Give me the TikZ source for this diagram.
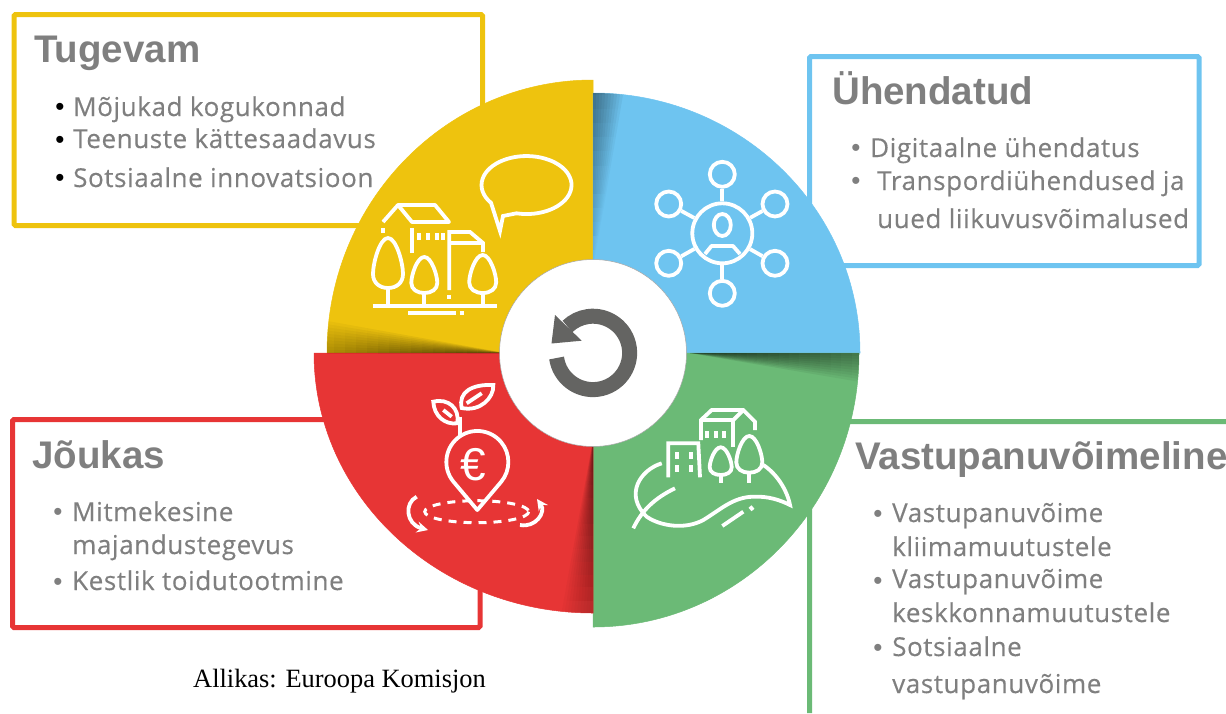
\documentclass[tikz,border=0pt]{standalone}
\usepackage{fontspec}
\usepackage{tikz}
\usetikzlibrary{fadings}
\usetikzlibrary{arrows}
\setmainfont{Liberation Sans}
\newfontfamily\bodyfont[LetterSpace=2.3,FakeBold=0.35]{Open Sans}
\newfontfamily\capfont{Liberation Serif}
\definecolor{kollane}{HTML}{EEC30E}
\definecolor{sinine}{HTML}{6EC4F0}
\definecolor{roheline}{HTML}{6BBA76}
\definecolor{punane}{HTML}{E73535}
\definecolor{tekst}{HTML}{7F7F7F}
\definecolor{nool}{HTML}{646462}
\tikzset{
	frame/.style = {line width=5pt, rounded corners=1.5pt},
	sector/.style = {draw=black!45, line width=0.5pt},
	iconline/.style = {draw=white, line width=3.8pt},
	satellite/.style = {circle, draw=white, line width=3.8pt, inner sep=0pt, minimum size=25pt},
	hub/.style = {circle, draw=white, line width=3.8pt, inner sep=0pt, minimum size=60pt},
	title/.style = {anchor=base west, inner sep=0pt, text=tekst, font=\fontsize{38.5}{38.5}\selectfont\bfseries},
	item/.style = {anchor=base west, inner sep=0pt, text=tekst, font=\fontsize{26}{26}\bodyfont},
	bullet/.style = {anchor=base, yshift=-9.5pt, inner sep=0pt, text=tekst, font=\fontsize{26}{26}\selectfont}
}
\newcommand{\treeicon}[4]{
	\draw[iconline, shift={(#1,#2)}, x=#3pt, y=-#4pt] (0,0) .. controls (.55,0) and (1,.5) .. (1,.72) .. controls (1,.9) and (.55,1) .. (0,1) .. controls (-.55,1) and (-1,.9) .. (-1,.72) .. controls (-1,.5) and (-.55,0) .. (0,0) -- cycle;
}
\begin{document}
\begin{tikzpicture}[x=1pt, y=-1pt]
	\useasboundingbox (0,0) rectangle (1226,713);

	\draw[frame, kollane] (14,14.5) rectangle (482.5,225.5);
	\draw[frame, sinine] (809.5,56.5) rectangle (1199,265.5);
	\draw[frame, punane] (12.5,419.5) rectangle (480,627.5);
	\draw[frame, roheline] (809.5,713) -- (809.5,421.5) -- (1226,421.5);

	\coordinate (O) at (593,353);
	\fill[sector, kollane] (O) -- (327,353) arc (180:270:266 and 273) -- cycle;
	\fill[sector, sinine] (O) -- (593,93) arc (270:360:267 and 260) -- cycle;
	\fill[sector, roheline] (O) -- (859,353) arc (0:90:266 and 274) -- cycle;
	\fill[sector, punane] (O) -- (593,613) arc (90:180:279 and 260) -- cycle;

	\begin{scope}
		\clip (O) -- (327,353) arc (180:270:266 and 273) -- cycle;
		\foreach \k in {1,...,10}
			\fill[black, opacity=0.09, path fading=west] (505,353) -- (250,353) -- (250,353-4.6*\k) -- cycle;
	\end{scope}
	\begin{scope}
		\clip (O) -- (593,93) arc (270:360:267 and 260) -- cycle;
		\foreach \k in {1,...,10}
			\fill[black, opacity=0.06, path fading=south] (593,270) -- (593,60) -- (593+3.6*\k,60) -- cycle;
	\end{scope}
	\begin{scope}
		\clip (O) -- (859,353) arc (0:90:266 and 274) -- cycle;
		\foreach \k in {1,...,10}
			\fill[black, opacity=0.1, path fading=east] (690,353) -- (960,353) -- (960,353+4.6*\k) -- cycle;
	\end{scope}
	\begin{scope}
		\clip (O) -- (593,613) arc (90:180:279 and 260) -- cycle;
		\foreach \k in {1,...,10}
			\fill[black, opacity=0.07, path fading=south] (593,440) -- (593,670) -- (593-4.2*\k,670) -- cycle;
	\end{scope}

	\node[circle, fill=white, draw=black!35, line width=0.5pt, inner sep=0pt, minimum size=187pt] (hole) at (593,353) {};
	\draw[nool, line width=15pt] (556.6,358) arc (172:-134:36.7);
	\fill[nool] (555,315) -- (551.5,343.5) -- (581.7,340.7) -- cycle;

	% kollane
	\draw[iconline] (516.4,213.3) arc (103:-218:45 and 29) -- (500,231) -- (503,216) -- cycle;
	\draw[iconline, line join=round] (383,222) -- (398,205) -- (435,205) -- (449,222) -- (412,222) -- (398,205);
	\draw[iconline] (382.7,228) -- (382.7,233);
	\draw[iconline] (411.7,228) -- (411.7,253);
	\draw[iconline] (419.3,233) -- (419.3,240);
	\draw[iconline] (428.3,233) -- (428.3,240);
	\draw[iconline] (436.7,233) -- (436.7,240);
	\draw[iconline] (443.3,233) -- (443.3,240);
	\draw[iconline] (449.3,295) -- (449.3,299);
	\draw[iconline] (449.3,290) -- (449.3,232) -- (470,232) -- (483,243) -- (483,252);
	\draw[iconline] (449.3,243) -- (483,243);
	\treeicon{388}{238}{15}{50}
	\treeicon{424.3}{257}{13}{36}
	\treeicon{482.7}{255}{13.5}{38}
	\draw[iconline] (388,288) -- (388,305);
	\draw[iconline] (424.3,293) -- (424.3,305);
	\draw[iconline] (482.7,293) -- (482.7,305);
	\draw[iconline] (372.7,305.7) -- (496.7,305.7);
	\draw[iconline] (408.3,313.3) -- (455.7,313.3);
	\draw[iconline] (459.7,313.3) -- (463.7,313.3);

	% sinine
	\node[hub] (hub) at (722.3,233.3) {};
	\node[satellite] (sat1) at (722.3,174.3) {};
	\node[satellite] (sat2) at (775,204) {};
	\node[satellite] (sat3) at (775,263.3) {};
	\node[satellite] (sat4) at (722.3,293.3) {};
	\node[satellite] (sat5) at (668.7,263.3) {};
	\node[satellite] (sat6) at (668.7,204) {};
	\draw[iconline] (hub) -- (sat1);
	\draw[iconline] (hub) -- (sat2);
	\draw[iconline] (hub) -- (sat3);
	\draw[iconline] (hub) -- (sat4);
	\draw[iconline] (hub) -- (sat5);
	\draw[iconline] (hub) -- (sat6);
	\draw[iconline] (722.3,225) ellipse (8.5 and 11);
	\draw[iconline, line join=round] (705,254) -- (711.5,246) -- (733,246) -- (740,254);

	% punane
	\draw[iconline, line join=round] (477.3,510) -- (453.6,481.9) arc (140:400:31) -- cycle;
	\draw[iconline] (460,416.7) -- (460,435);
	\draw[iconline] (461.7,408) .. controls (458,392) and (472,384) .. (493.3,385) .. controls (494,398) and (480,412) .. (461.7,408) -- cycle;
	\draw[iconline] (457.3,423.3) .. controls (445,425) and (434,416) .. (433.3,401.7) .. controls (448,398) and (460,408) .. (457.3,423.3) -- cycle;
	\draw[iconline] (466.7,403.3) -- (481.7,393.3);
	\draw[iconline] (443.3,410) -- (451.7,416.7);
	\node[inner sep=0pt, text=white, font=\fontsize{46}{46}\selectfont] (euro) at (473.5,465) {€};
	\draw[iconline, line width=3pt, dash pattern=on 8pt off 7pt] (476.7,511.7) ellipse (52 and 11);
	\draw[iconline, -stealth] (416.7,496.7) .. controls (404,503) and (406,524) .. (428,530);
	\draw[iconline, -stealth] (520,525) .. controls (536,528) and (546,512) .. (537,499);

	% roheline
	\draw[iconline] (661.7,463.3) .. controls (640,470) and (624,495) .. (646.7,516.7) .. controls (660,526) and (685,530) .. (703.3,520) .. controls (720,510) and (733,497) .. (753.3,496.7) .. controls (768,496) and (780,500) .. (790,505) .. controls (787,490) and (777,474) .. (763.3,465);
	\draw[iconline] (633.3,528.3) .. controls (642,510) and (655,498) .. (675,488.3);
	\draw[iconline] (722.3,526) -- (743.3,511.7);
	\draw[iconline] (750,506.5) -- (753,510);
	\draw[iconline] (668.3,477.3) -- (668.3,443.3) -- (698.3,443.3) -- (700,477.3);
	\draw[iconline] (701,440) -- (701,420) -- (711.7,410) -- (743.3,410) -- (755,421.7) -- (755,430);
	\draw[iconline] (701,420) -- (733.3,420) -- (743.3,410);
	\draw[iconline] (733.3,420) -- (733.3,446.7);
	\fill[white] (675.3,451.5) rectangle (679.3,458.5);
	\fill[white] (688.7,451.5) rectangle (692.7,458.5);
	\fill[white] (675.3,465) rectangle (679.3,472);
	\fill[white] (688.7,465) rectangle (692.7,472);
	\fill[white] (705,430.5) rectangle (708.5,437.5);
	\fill[white] (714,430.5) rectangle (717.5,437.5);
	\fill[white] (722.3,430.5) rectangle (725.8,437.5);
	\treeicon{720.7}{447.3}{11}{27.7}
	\treeicon{749.3}{436}{13}{36.7}
	\draw[iconline] (720.7,475) -- (720.7,482.7);
	\draw[iconline] (749.3,472.7) -- (749.3,482.7);

	% tekstid
	\node[title] (tugevam) at (34,62) {Tugevam};
	\node[bullet, text=black] (b1) at (60,106) {•};
	\node[item] (t1) at (73,116) {Mõjukad kogukonnad};
	\node[bullet, text=black] (b2) at (60,139) {•};
	\node[item] (t2) at (73,148) {Teenuste kättesaadavus};
	\node[bullet, text=black] (b3) at (60,177) {•};
	\node[item] (t3) at (73,187) {Sotsiaalne innovatsioon};

	\node[title] (uhendatud) at (832,104) {Ühendatud};
	\node[bullet] (b4) at (856,147) {•};
	\node[item] (u1) at (870,157) {Digitaalne ühendatus};
	\node[bullet] (b5) at (856,180) {•};
	\node[item] (u2) at (877,190) {Transpordiühendused ja};
	\node[item] (u3) at (877,228) {uued liikuvusvõimalused};

	\node[title] (joukas) at (32,468) {Jõukas};
	\node[bullet] (b6) at (58,511) {•};
	\node[item] (j1) at (72,521) {Mitmekesine};
	\node[item] (j2) at (72,554) {majandustegevus};
	\node[bullet] (b7) at (58,581) {•};
	\node[item] (j3) at (72,590) {Kestlik toidutootmine};

	\node[title] (vastu) at (855,469) {Vastupanuvõimeline};
	\node[bullet] (b8) at (878,513) {•};
	\node[item] (v1) at (892,522) {Vastupanuvõime};
	\node[item] (v2) at (892,556) {kliimamuutustele};
	\node[bullet] (b9) at (878,580) {•};
	\node[item] (v3) at (892,588) {Vastupanuvõime};
	\node[item] (v4) at (892,622) {keskkonnamuutustele};
	\node[bullet] (b10) at (878,647) {•};
	\node[item] (v5) at (892,656) {Sotsiaalne};
	\node[item] (v6) at (892,693) {vastupanuvõime};

	\node[anchor=base west, inner sep=0pt, text=black, font=\fontsize{26.4}{26.4}\capfont] (allikas) at (193,687) {Allikas: Euroopa Komisjon};
\end{tikzpicture}
\end{document}
